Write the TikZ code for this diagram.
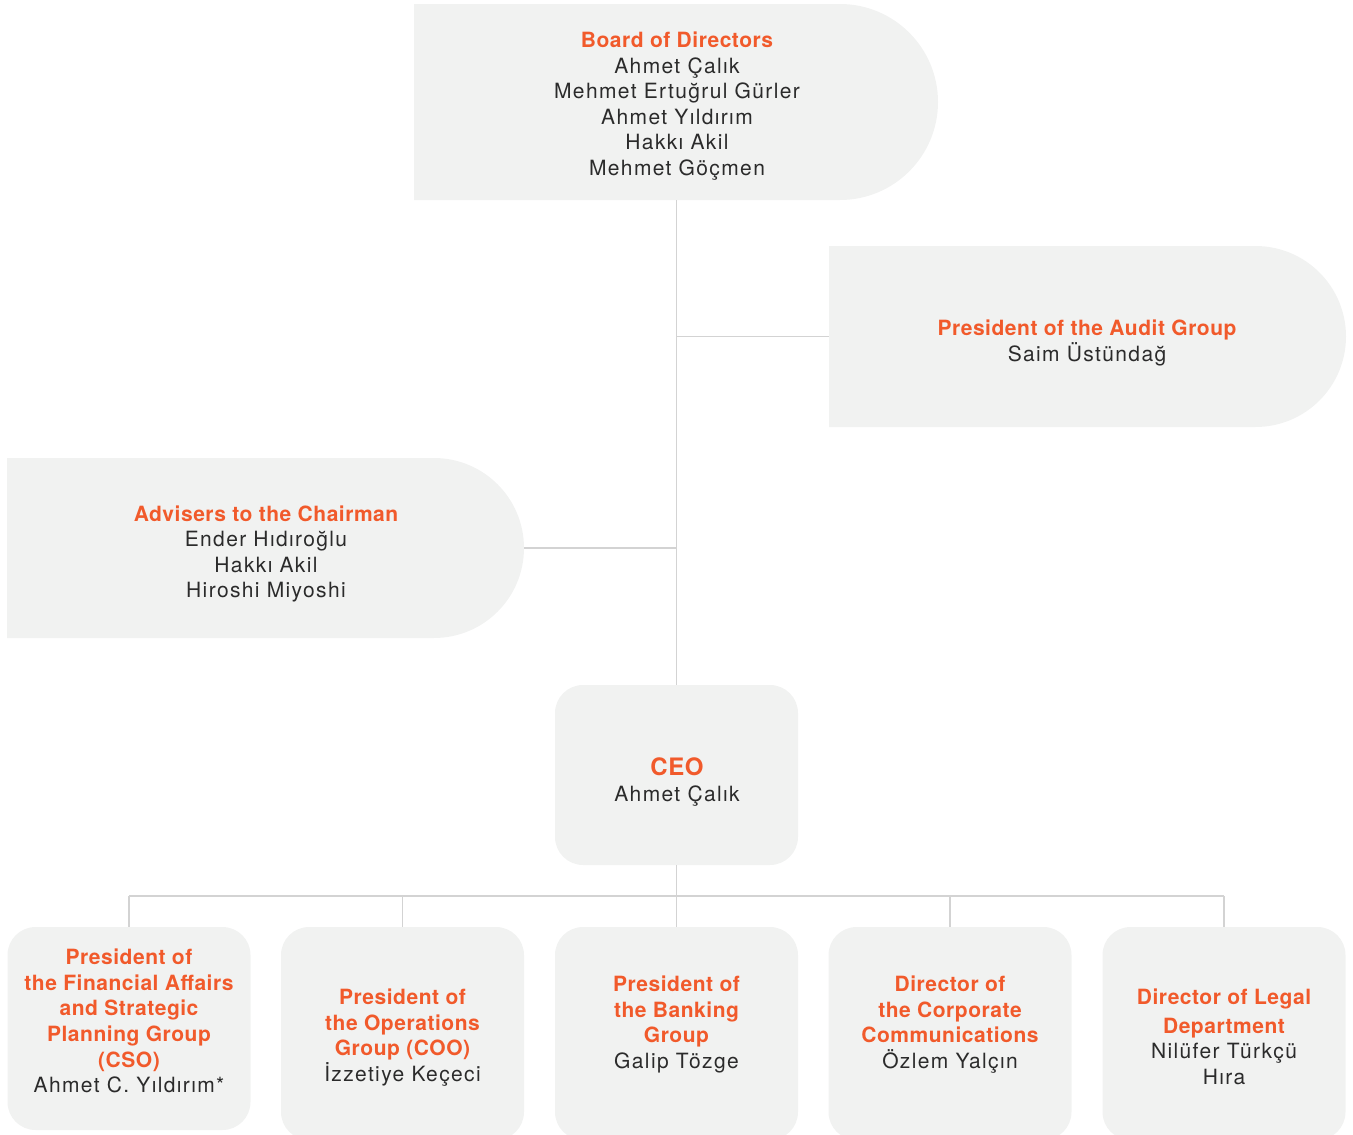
\documentclass[tikz,border=0pt]{standalone}
\usepackage{fontspec}
\setmainfont{TeX Gyre Heros}[LetterSpace=6.5,BoldFeatures={LetterSpace=2.5}]
\definecolor{orgc}{HTML}{F15A2B}
\definecolor{boxc}{HTML}{F1F2F1}
\definecolor{txtc}{HTML}{2B2B2B}
\definecolor{linec}{HTML}{D3D3D3}
\newcommand{\ttl}[1]{{\bfseries\color{orgc}#1}}
\tikzset{
  conn/.style={draw=linec,line width=1.1pt},
  txt/.style={align=center,inner sep=0pt,text=txtc,font=\fontsize{21}{25.6}\selectfont},
  rbox/.style={fill=boxc,rounded corners=28pt,minimum width=243pt,inner sep=0pt},
  ghost/.style={inner sep=0pt}
}
\begin{document}
\begin{tikzpicture}[x=1pt,y=-1pt]
\useasboundingbox (0,0) rectangle (1353,1135);
% pill-shaped boxes
\fill[boxc] (414,4) -- (840,4) arc[start angle=-90,end angle=90,radius=98] -- (414,200) -- cycle;
\node[ghost,minimum width=524pt,minimum height=196pt] (board) at (676.5,102) {};
\fill[boxc] (829,246) -- (1255.5,246) arc[start angle=-90,end angle=90,radius=90.5] -- (829,427) -- cycle;
\node[ghost,minimum width=517pt,minimum height=181pt] (audit) at (1087.5,336.5) {};
\fill[boxc] (7,458) -- (434,458) arc[start angle=-90,end angle=90,radius=90] -- (7,638) -- cycle;
\node[ghost,minimum width=517pt,minimum height=180pt] (adv) at (265.5,548) {};
% rounded boxes
\node[rbox,minimum height=180pt] (ceo) at (676.5,775) {};
\node[rbox,minimum height=203pt] (b1) at (129,1028.5) {};
\node[rbox,minimum height=213pt] (b2) at (402.5,1033.5) {};
\node[rbox,minimum height=213pt] (b3) at (676.5,1033.5) {};
\node[rbox,minimum height=213pt] (b4) at (950,1033.5) {};
\node[rbox,minimum height=213pt] (b5) at (1224,1033.5) {};
% connectors
\coordinate (bus) at (676.5,896);
\draw[conn] (board.south -| ceo.north) -- (ceo.north);
\draw[conn] (ceo.north |- audit.west) -- (audit.west);
\draw[conn] (adv.east) -- (ceo.north |- adv.east);
\draw[conn] (ceo.south) -- (bus);
\draw[conn] (b1.north |- bus) -- (b5.north |- bus);
\foreach \b in {b1,b2,b3,b4,b5}{\draw[conn] (\b.north |- bus) -- (\b.north);}
% texts
\node[txt] (tboard) at (677,106) {\ttl{Board of Directors}\\Ahmet Çalık\\Mehmet Ertuğrul Gürler\\Ahmet Yıldırım\\Hakkı Akil\\Mehmet Göçmen};
\node[txt] (taudit) at (1087,343) {\ttl{President of the Audit Group}\\Saim Üstündağ};
\node[txt] (tadv) at (266,554) {\ttl{Advisers to the Chairman}\\Ender Hıdıroğlu\\Hakkı Akil\\Hiroshi Miyoshi};
\node[txt] (tceo) at (677,782) {{\fontsize{24}{26}\selectfont\ttl{CEO}}\\Ahmet Çalık};
\node[txt] (tb1) at (129,1021) {\ttl{President of}\\\ttl{the Financial Affairs}\\\ttl{and Strategic}\\\ttl{Planning Group}\\\ttl{(CSO)}\\Ahmet C. Yıldırım*};
\node[txt] (tb2) at (402.5,1037.5) {\ttl{President of}\\\ttl{the Operations}\\\ttl{Group (COO)}\\İzzetiye Keçeci};
\node[txt] (tb3) at (676.5,1024.5) {\ttl{President of}\\\ttl{the Banking}\\\ttl{Group}\\Galip Tözge};
\node[txt] (tb4) at (950,1024.5) {\ttl{Director of}\\\ttl{the Corporate}\\\ttl{Communications}\\Özlem Yalçın};
\node[txt] (tb5) at (1224,1037) {\ttl{Director of Legal}\\[3pt]\ttl{Department}\\Nilüfer Türkçü\\Hıra};
\end{tikzpicture}
\end{document}
